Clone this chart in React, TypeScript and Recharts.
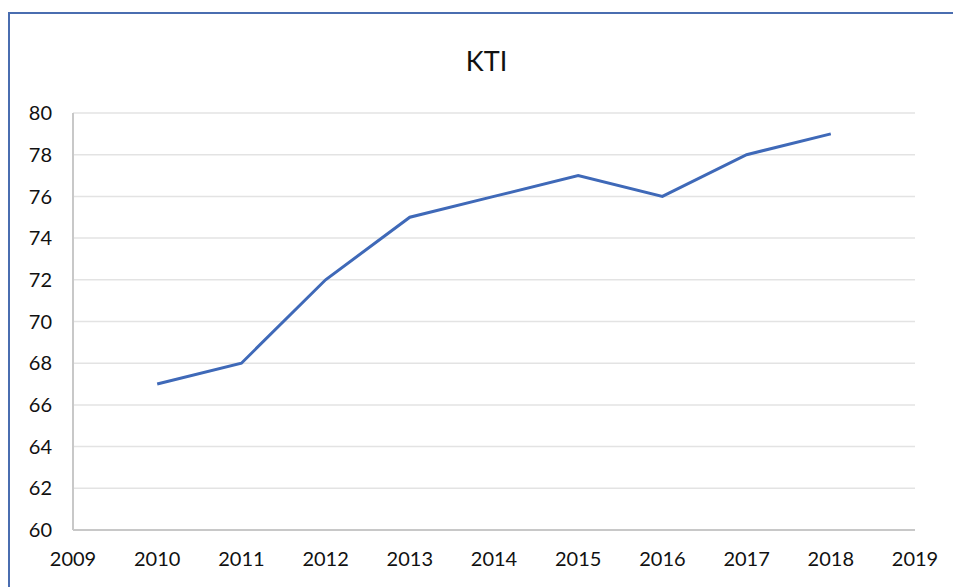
import { LineChart, Line, XAxis, YAxis, CartesianGrid } from "recharts";

const years = [2010, 2011, 2012, 2013, 2014, 2015, 2016, 2017, 2018];
const kti = [67, 68, 72, 75, 76, 77, 76, 78, 79];
const xTicks = [2009, 2010, 2011, 2012, 2013, 2014, 2015, 2016, 2017, 2018, 2019];
const yTicks = [60, 62, 64, 66, 68, 70, 72, 74, 76, 78, 80];

const data = years.map((year, i) => ({ year, kti: kti[i] }));

const font = "Lato, 'Open Sans', sans-serif";

export default function App() {
  return (
    <div style={{ position: "relative", width: 953, height: 579, fontFamily: font }}>
      <div
        style={{
          position: "absolute",
          left: 0,
          top: 4,
          width: 953,
          height: 575,
          borderTop: "2px solid #4a6db0",
          borderLeft: "2px solid #4a6db0",
          background: "#fff",
        }}
      >
        <div
          style={{
            position: "absolute",
            left: 0,
            width: "100%",
            top: 30,
            textAlign: "center",
            fontSize: 27,
            color: "#111",
          }}
        >
          KTI
        </div>
        <LineChart
          width={951}
          height={573}
          data={data}
          margin={{ top: 99, right: 46, bottom: 0, left: 0 }}
        >
          <CartesianGrid vertical={false} stroke="#e3e3e3" strokeWidth={1.5} />
          <XAxis
            dataKey="year"
            type="number"
            domain={[2009, 2019]}
            ticks={xTicks}
            height={57}
            tickLine={false}
            tickSize={0}
            tickMargin={22}
            stroke="#c8c8c8"
            strokeWidth={2}
            tick={{ fill: "#111", fontSize: 20, fontFamily: font }}
          />
          <YAxis
            domain={[60, 80]}
            ticks={yTicks}
            width={63}
            tickLine={false}
            tickSize={0}
            tickMargin={21}
            stroke="#c8c8c8"
            strokeWidth={2}
            tick={{ fill: "#111", fontSize: 20, fontFamily: font }}
          />
          <Line
            dataKey="kti"
            stroke="#3f69b8"
            strokeWidth={3}
            dot={false}
            isAnimationActive={false}
          />
        </LineChart>
      </div>
    </div>
  );
}
